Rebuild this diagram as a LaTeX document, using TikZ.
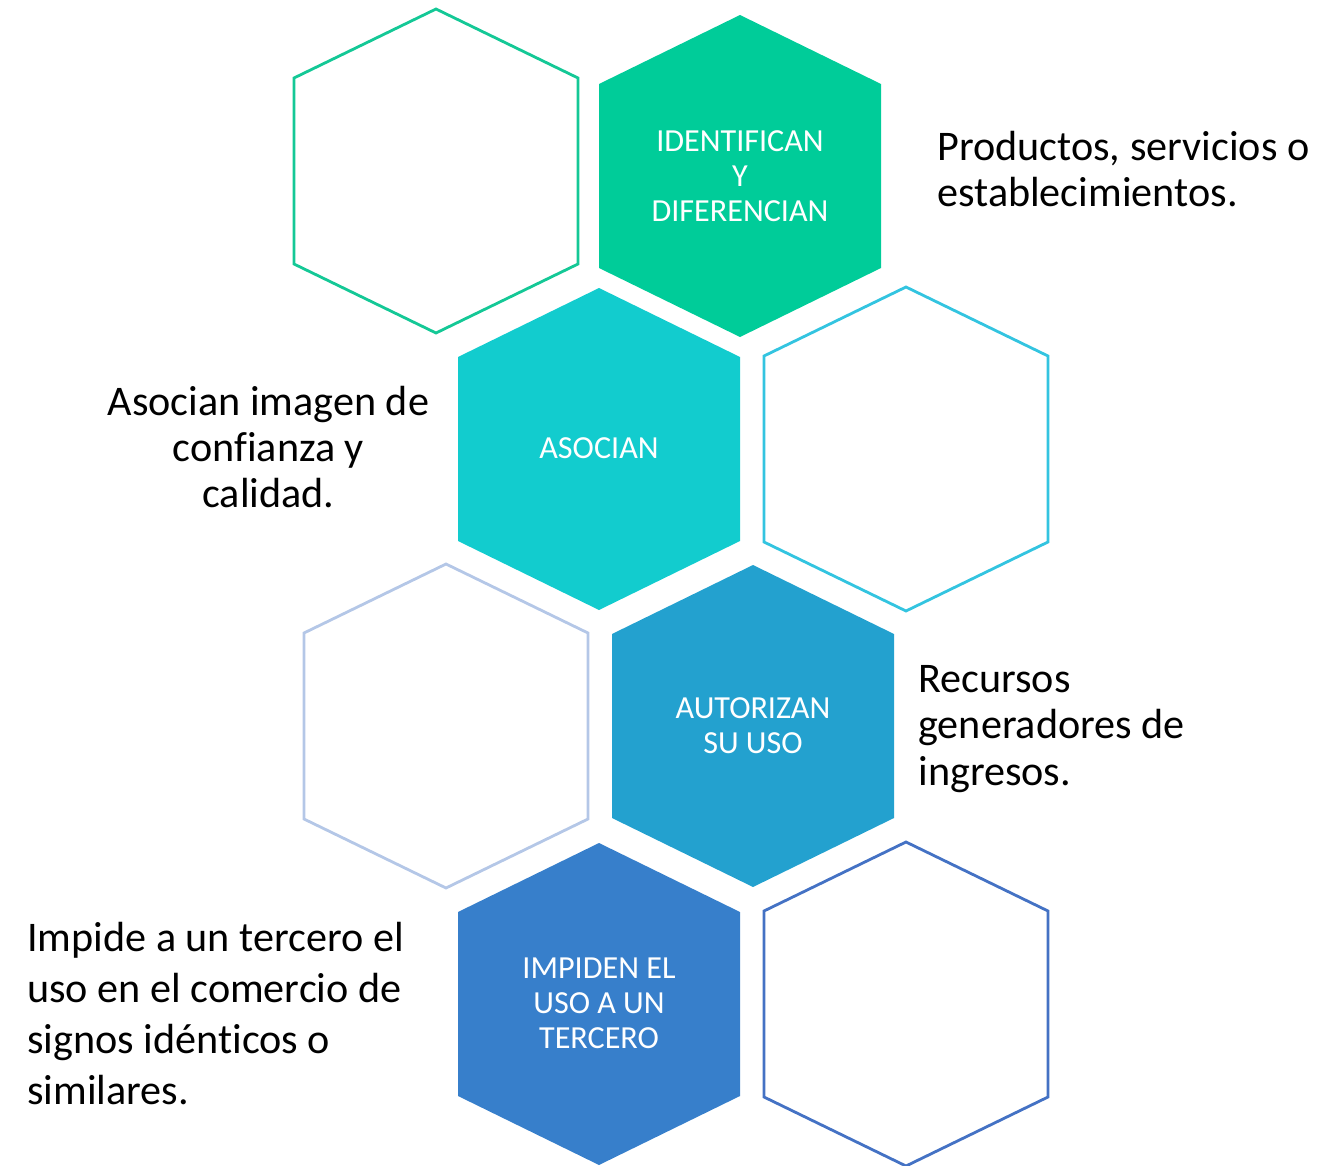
\documentclass[tikz,border=0pt]{standalone}
\usepackage{fontspec}
\setmainfont[Ligatures={NoCommon,NoRequired,NoContextual,NoRare}]{Carlito}
\definecolor{verde}{HTML}{00CC99}
\definecolor{cian}{HTML}{12CCCE}
\definecolor{azul}{HTML}{23A1CF}
\definecolor{azulos}{HTML}{377FCB}
\definecolor{bordeverde}{HTML}{14C896}
\definecolor{bordecian}{HTML}{33C4E0}
\definecolor{bordegris}{HTML}{B4C7E7}
\definecolor{bordeazul}{HTML}{4472C4}

\begin{document}
\begin{tikzpicture}[x=0.02cm, y=-0.02cm,
    hextext/.style = {text=white, align=center, inner sep=0pt, font=\fontsize{18.3}{20}\selectfont},
    desc/.style = {align=left, inner sep=0pt, font=\fontsize{24}{26.4}\selectfont}]
  \useasboundingbox (0,0) rectangle (1319,1166);

  % filled hexagons
  \foreach \cx/\cy/\col in {740/176/verde, 599/449/cian, 753/726/azul, 599/1004/azulos}
    \fill[fill=\col] (\cx,\cy-161) -- (\cx+141,\cy-92) -- (\cx+141,\cy+92) -- (\cx,\cy+161)
      -- (\cx-141,\cy+92) -- (\cx-141,\cy-92) -- cycle;

  % empty hexagons
  \foreach \cx/\cy/\col in {436/171/bordeverde, 906/449/bordecian, 446/726/bordegris, 906/1004/bordeazul}
    \draw[draw=\col, line width=1.6pt] (\cx,\cy-162) -- (\cx+142,\cy-93) -- (\cx+142,\cy+93) -- (\cx,\cy+162)
      -- (\cx-142,\cy+93) -- (\cx-142,\cy-93) -- cycle;

  \node[hextext] (identifican) at (740,176) {IDENTIFICAN\\Y\\DIFERENCIAN};
  \node[hextext] (asocian) at (599,448) {ASOCIAN};
  \node[hextext] (autorizan) at (753,726) {AUTORIZAN\\SU USO};
  \node[hextext] (impiden) at (599,1003) {IMPIDEN EL\\USO A UN\\TERCERO};

  \node[desc, anchor=west] (productos) at (937,169) {Productos, servicios o\\establecimientos.};
  \node[desc, align=center] (confianza) at (268.5,447) {Asocian imagen de\\confianza y\\calidad.};
  \node[desc, anchor=west] (recursos) at (918,729) {Recursos\\generadores de\\ingresos.};
  \node[desc, anchor=west, font=\fontsize{24}{28.9}\selectfont] (impide) at (27,1013.5)
    {Impide a un tercero el\\uso en el comercio de\\signos idénticos o\\similares.};
\end{tikzpicture}
\end{document}
